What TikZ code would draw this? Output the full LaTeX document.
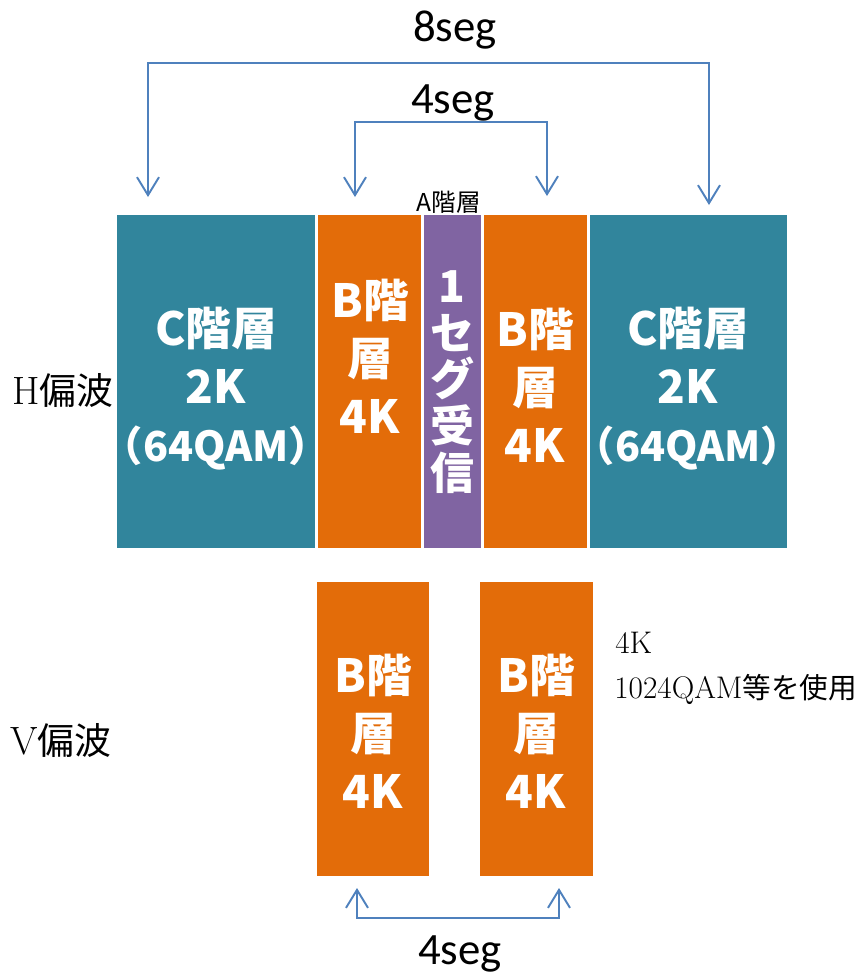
\documentclass[tikz,border=0pt]{standalone}
\usepackage{fontspec}
\usepackage{tikz}
\usetikzlibrary{arrows.meta}
\newfontfamily\jp{Noto Sans CJK JP}
\newfontfamily\segfont{Carlito}
\definecolor{layerC}{HTML}{31859C}
\definecolor{layerB}{HTML}{E36C09}
\definecolor{layerA}{HTML}{8064A2}
\definecolor{segblue}{HTML}{4F81BD}
\tikzset{
  layer/.style={anchor=north west, inner sep=0pt, outer sep=0pt},
  layertext/.style={text=white, align=center, inner sep=0pt,
    font=\jp\bfseries\fontsize{26}{33}\selectfont},
  onesegtext/.style={text=white, align=center, inner sep=0pt,
    font=\jp\bfseries\fontsize{25}{26.6}\selectfont},
  segline/.style={draw=segblue, line width=1.1pt,
    {Straight Barb[length=3.6mm,width=4.4mm]}-{Straight Barb[length=3.6mm,width=4.4mm]}},
  seglabel/.style={font=\segfont\fontsize{25.5}{30}\selectfont, anchor=base, inner sep=0pt},
  polar/.style={font=\fontsize{22.5}{25}\selectfont, inner sep=0pt},
  note/.style={font=\fontsize{17.8}{20}\selectfont, anchor=base west, inner sep=0pt},
}
\newcommand{\qamline}{{\fontsize{23.5}{33}\selectfont（64QAM）}}
\begin{document}
\begin{tikzpicture}[x=0.02cm,y=-0.02cm]
    \useasboundingbox (0,0) rectangle (864,975);

    % H polarisation
    \node[layer, fill=layerC, minimum width=3.96cm, minimum height=6.66cm] (hcl) at (117,215) {};
    \node[layer, fill=layerB, minimum width=2.06cm, minimum height=6.66cm] (hbl) at (318,215) {};
    \node[layer, fill=layerA, minimum width=1.14cm, minimum height=6.66cm] (ha) at (424,215) {};
    \node[layer, fill=layerB, minimum width=2.06cm, minimum height=6.66cm] (hbr) at (484,215) {};
    \node[layer, fill=layerC, minimum width=3.94cm, minimum height=6.66cm] (hcr) at (590,215) {};

    \node[layertext] (hcl-t) at (216,389) {C階層\\2K\\\qamline};
    \node[layertext] (hbl-t) at (370,356) {B階\\層\\4K};
    \node[onesegtext] (ha-t) at (452,382) {1\\セ\\グ\\受\\信};
    \node[layertext] (hbr-t) at (535,385) {B階\\層\\4K};
    \node[layertext] (hcr-t) at (688,389) {C階層\\2K\\\qamline};
    \node[font=\jp\fontsize{14}{16}\selectfont, anchor=base, inner sep=0pt] (alabel) at (449,211) {A階層};

    % V polarisation
    \node[layer, fill=layerB, minimum width=2.24cm, minimum height=5.88cm] (vbl) at (317,582) {};
    \node[layer, fill=layerB, minimum width=2.26cm, minimum height=5.88cm] (vbr) at (480,582) {};
    \node[layertext] (vbl-t) at (373,731) {B階\\層\\4K};
    \node[layertext] (vbr-t) at (536,731) {B階\\層\\4K};

    \node[polar] (hpol) at (63,390) {H{\jp\fontsize{21}{25}\selectfont 偏波}};
    \node[polar] (vpol) at (61,740) {V{\jp\fontsize{21}{25}\selectfont 偏波}};
    \node[note] (note1) at (615,653) {4K};
    \node[note] (note2) at (614,698) {1024QAM{\jp\fontsize{16.3}{20}\selectfont 等を使用}};

    % segment brackets
    \coordinate (t8l) at (148,197);
    \coordinate (t8r) at (709,205);
    \coordinate (t4l) at (355,197);
    \coordinate (t4r) at (547,196);
    \coordinate (b4l) at (357,888);
    \coordinate (b4r) at (559,888);
    \draw[segline] (t8l) -- ++(0,-134) -| (t8r);
    \draw[segline] (t4l) -- ++(0,-75) -| (t4r);
    \draw[segline] (b4l) -- ++(0,30) -| (b4r);
    \node[seglabel] (seg8) at (455,41) {8seg};
    \node[seglabel] (seg4t) at (453,113) {4seg};
    \node[seglabel] (seg4b) at (460,964) {4seg};
\end{tikzpicture}
\end{document}
